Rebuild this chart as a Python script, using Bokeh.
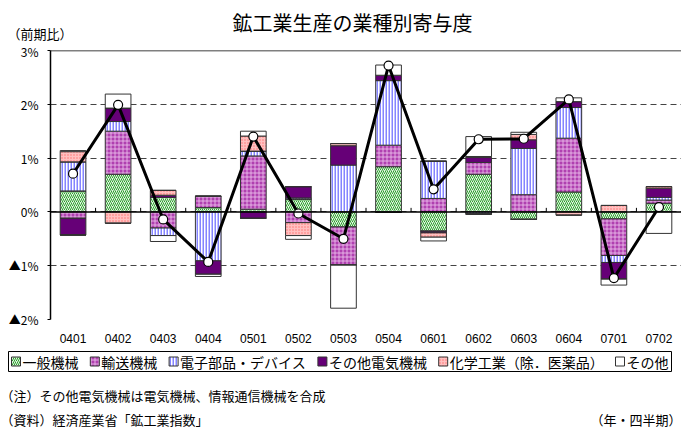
from bokeh.plotting import figure
from bokeh.models import (ColumnDataSource, FactorRange, Range1d, FixedTicker, Span, Label)
from bokeh.layouts import column
from bokeh.transform import dodge
from bokeh.core.properties import value
from bokeh.embed import file_html
from bokeh.resources import INLINE

# ---- data ----
categories = ["0401", "0402", "0403", "0404", "0501", "0502", "0503",
              "0504", "0601", "0602", "0603", "0604", "0701", "0702"]
general        = [0.39, 0.70, 0.27, 0.08, 0.05, 0.24, -0.28, 0.84, -0.36, 0.70, -0.14, 0.37, -0.13, 0.16]
transport      = [-0.12, 0.80, -0.30, 0.21, 0.99, -0.20, -0.71, 0.40, 0.25, 0.22, 0.32, 1.00, -0.68, 0.06]
electronics    = [0.54, 0.18, -0.14, -0.91, 0.09, 0.02, 0.87, 1.20, 0.69, -0.04, 0.86, 0.57, -0.13, 0.05]
other_electric = [-0.31, 0.25, 0.04, -0.25, -0.12, 0.21, 0.36, 0.10, -0.03, 0.09, 0.16, 0.11, -0.31, 0.17]
chemical       = [0.19, -0.21, 0.09, 0.00, 0.28, -0.24, 0.04, 0.00, -0.08, 0.02, 0.10, -0.06, 0.12, 0.03]
others         = [0.02, 0.26, -0.11, -0.04, 0.09, -0.07, -0.80, 0.19, -0.07, 0.37, 0.04, 0.07, -0.11, -0.40]
total          = [0.71, 1.99, -0.14, -0.93, 1.40, -0.03, -0.50, 2.72, 0.42, 1.35, 1.36, 2.09, -1.23, 0.09]

series_names = ["一般機械", "輸送機械", "電子部品・デバイス", "その他電気機械",
                "化学工業（除．医薬品）", "その他"]
y_ticks = [-2, -1, 0, 1, 2, 3]
y_tick_labels = ["▲2%", "▲1%", "0%", "1%", "2%", "3%"]

title_text = "鉱工業生産の業種別寄与度"
unit_text = "（前期比）"
note_text = "（注）その他電気機械は電気機械、情報通信機械を合成"
source_text = "（資料）経済産業省「鉱工業指数」"
period_text = "（年・四半期）"

# ---- styles ----
JP = "Noto Sans CJK JP"
W = 681
HEAD_H, MAIN_H, FOOT_H = 42, 307, 81
fills    = ["#e2f5e2", "#b040b0", "#ffffff", "#660077", "#ffc0c0", "#ffffff"]
hatches  = ["/", "+", "|", " ", ".", " "]
hcolors  = ["#2e9e2e", "#f0c8f0", "#8484ff", "#660077", "#ff7070", "#ffffff"]
hscales  = [4, 4, 3, 4, 3, 4]
hweights = [1.0, 0.8, 2.0, 1, 1.3, 1]
bar_style = dict(fill_color=fills, hatch_pattern=hatches, hatch_color=hcolors,
                 hatch_scale=hscales, hatch_weight=hweights,
                 line_color="#333333", line_width=1)


def text_panel(height):
    f = figure(width=W, height=height, x_range=Range1d(0, W), y_range=Range1d(height, 0),
               x_axis_type=None, y_axis_type=None, output_backend="svg",
               toolbar_location=None, min_border=0, outline_line_color=None,
               frame_align=False)
    f.grid.visible = False
    return f


def lab(f, x, y, text, size, align="left"):
    f.add_layout(Label(x=x, y=y, text=text, text_font=JP, text_font_size=size,
                       text_align=align, text_baseline="middle", text_color="black"))


# ---- header ----
head = text_panel(HEAD_H)
lab(head, 352, 22, title_text, "20px", "center")
lab(head, 7, 33, unit_text, "13px")

# ---- main chart ----
series = [general, transport, electronics, other_electric, chemical, others]
pos_cols = [f"p{i}" for i in range(len(series))]
neg_cols = [f"n{i}" for i in range(len(series))]
data = {"cat": categories, "total": total}
for i, s in enumerate(series):
    data[pos_cols[i]] = [max(v, 0.0) for v in s]
    data[neg_cols[i]] = [min(v, 0.0) for v in s]
src = ColumnDataSource(data)

p = figure(x_range=FactorRange(*categories), y_range=Range1d(y_ticks[0], y_ticks[-1]),
           width=W, height=MAIN_H, output_backend="svg", toolbar_location=None,
           min_border_left=50, min_border_right=0, min_border_top=8,
           min_border_bottom=30, frame_align=False)
p.outline_line_color = None

p.xaxis.axis_line_color = None
p.xaxis.major_tick_line_color = None
p.xaxis.minor_tick_line_color = None
p.xaxis.major_label_text_font_size = "12px"
p.xaxis.major_label_text_font = "Liberation Sans"
p.xaxis.major_label_standoff = 8
p.xaxis.major_label_text_color = "black"

p.yaxis.ticker = FixedTicker(ticks=y_ticks)
p.yaxis.major_label_overrides = {t: l for t, l in zip(y_ticks, y_tick_labels)}
p.yaxis.axis_line_color = "black"
p.yaxis.axis_line_width = 1.5
p.yaxis.major_tick_out = 3
p.yaxis.major_tick_in = 0
p.yaxis.minor_tick_line_color = None
p.yaxis.major_label_standoff = 9
p.yaxis.major_label_text_font_size = "12px"
p.yaxis.major_label_text_font = JP
p.yaxis.major_label_text_color = "black"

p.xgrid.grid_line_color = None
p.ygrid.ticker = FixedTicker(ticks=y_ticks)
p.ygrid.grid_line_color = "#444444"
p.ygrid.grid_line_dash = "6 4"
p.ygrid.grid_line_width = 1

bw = 0.57
p.vbar_stack(pos_cols, x="cat", width=bw, source=src, **bar_style)
p.vbar_stack(neg_cols, x="cat", width=bw, source=src, **bar_style)

p.add_layout(Span(location=0, dimension="width", line_color="black", line_width=1.5))
p.add_layout(Span(location=y_ticks[-1], dimension="width", line_color="black", line_width=1.5))
bsrc = ColumnDataSource({"cat": categories[1:]})
p.segment(x0=dodge("cat", -0.5, range=p.x_range), y0=0,
          x1=dodge("cat", -0.5, range=p.x_range), y1=0.075,
          source=bsrc, line_color="black", line_width=1)

p.line(x="cat", y="total", source=src, line_color="black", line_width=3)
p.scatter(x="cat", y="total", source=src, size=9, fill_color="white",
          line_color="black", line_width=1.2)

# ---- footer: legend (swatches + labels) and notes ----
foot = text_panel(FOOT_H)
LEG_L, LEG_R, LEG_T, LEG_B = 8, 671, 2, 22
LEG_FONT = 14
SW, STAND, PAD = 9, 2, 3


def text_w(s, px):
    return sum(px if ord(c) > 0x2000 else px * 0.55 for c in s)


tws = [text_w(n, LEG_FONT) for n in series_names]
gap = ((LEG_R - LEG_L) - 2 * PAD - sum(SW + STAND + t for t in tws)) / (len(tws) - 1)
sw_x, tx_x = [], []
cur = LEG_L + PAD
for t in tws:
    sw_x.append(cur + SW / 2)
    tx_x.append(cur + SW + STAND)
    cur += SW + STAND + t + gap
ymid = (LEG_T + LEG_B) / 2
leg_src = ColumnDataSource(dict(x=sw_x, tx=tx_x, y=[ymid] * len(tws), name=series_names,
                                fill=fills, hatch=hatches, hcol=hcolors,
                                hsc=hscales, hw=hweights))
foot.quad(left=LEG_L, right=LEG_R, top=LEG_T, bottom=LEG_B, fill_color="white",
          line_color="black", line_width=1)
foot.rect(x="x", y="y", width=SW, height=SW, source=leg_src, fill_color="fill",
          hatch_pattern="hatch", hatch_color="hcol", hatch_scale="hsc",
          hatch_weight="hw", line_color="#333333", line_width=1)
foot.text(x="tx", y="y", text="name", source=leg_src, text_font=value(JP),
          text_font_size=f"{LEG_FONT}px", text_baseline="middle", text_align="left",
          text_color="black")

lab(foot, 0, 46, note_text, "13px")
lab(foot, 0, 70, source_text, "13px")
lab(foot, 681, 70, period_text, "13px", "right")

layout = column(head, p, foot, spacing=0)
open("out.html", "w").write(file_html(layout, INLINE))
